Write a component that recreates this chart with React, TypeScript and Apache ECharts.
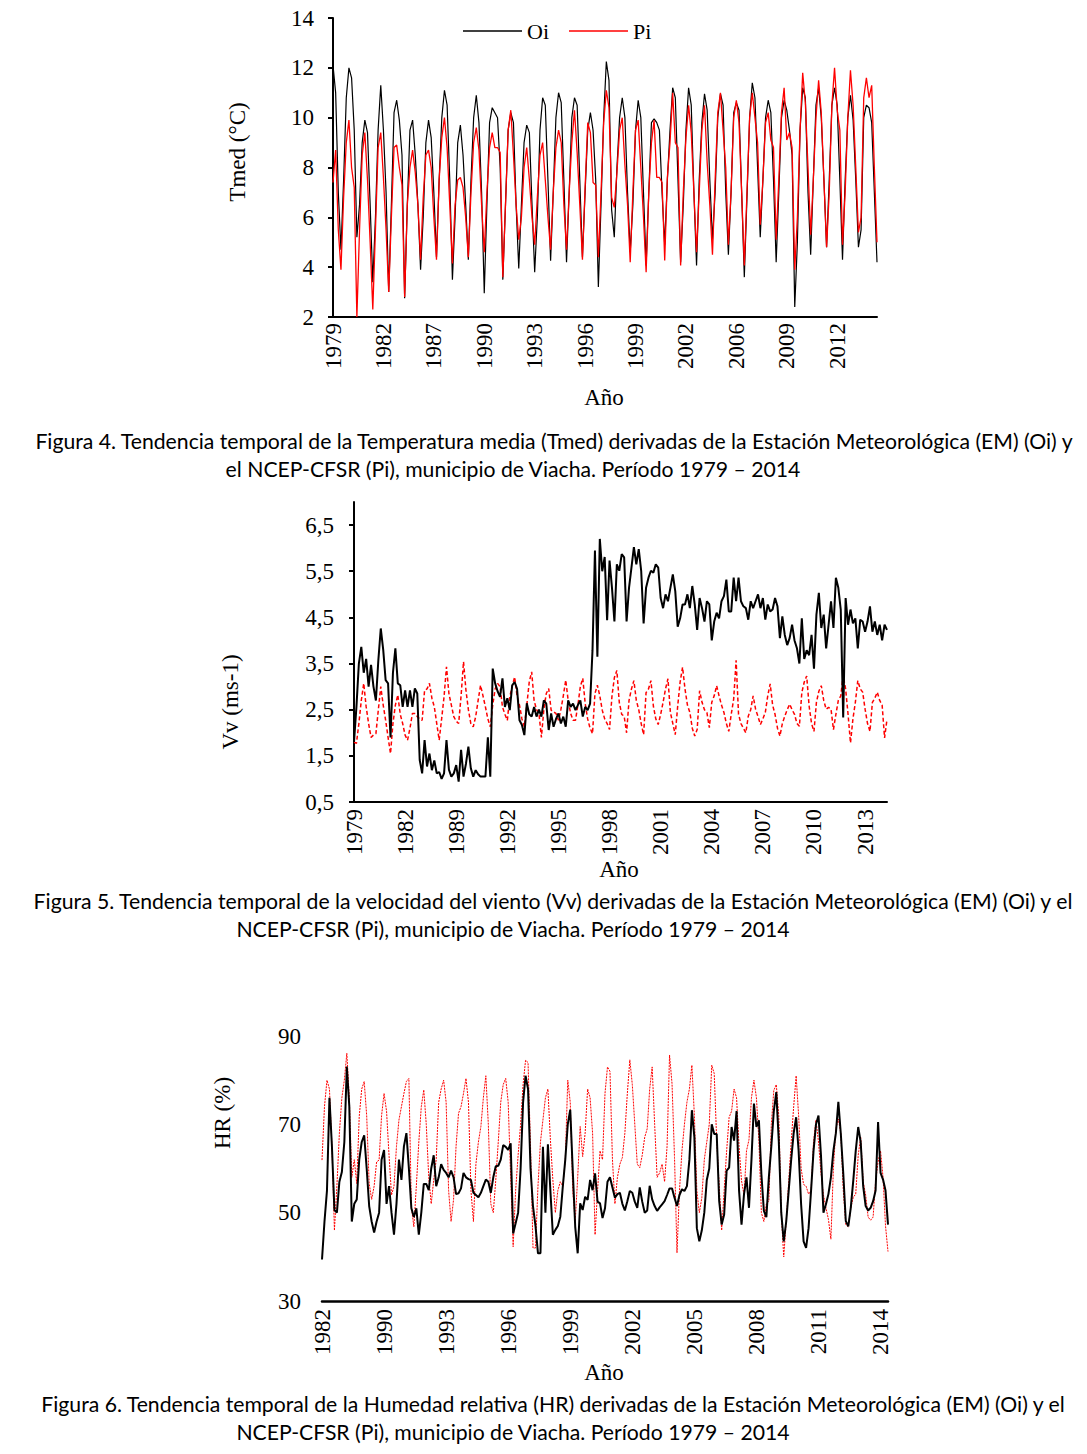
import React, { useEffect, useRef } from 'react';
import * as echarts from 'echarts';

// ---------- Figura 4: Tmed ----------
const tmedLabels = ['1979', '1982', '1987', '1990', '1993', '1996', '1999', '2002', '2006', '2009', '2012'];
const tmedTicks = [2, 4, 6, 8, 10, 12, 14];
const tmedOi = [
  12.1, 11.0, 7.0, 4.7, 7.5, 10.8,
  12.0, 11.6, 9.5, 5.2, 6.5, 9.0,
  9.9, 9.4, 6.5, 3.4, 6.0, 9.5,
  11.3, 9.5, 7.0, 3.0, 6.5, 10.2,
  10.7, 9.9, 8.5, 2.75, 6.5, 9.5,
  9.9, 8.5, 6.5, 3.9, 6.0, 9.0,
  9.9, 9.2, 7.0, 4.4, 7.5, 10.0,
  11.1, 10.5, 7.5, 3.5, 6.0, 9.0,
  9.7, 8.5, 6.5, 4.3, 7.5, 10.0,
  10.9, 9.8, 7.0, 2.95, 6.5, 9.8,
  10.4, 10.2, 10.0, 8.0, 3.5, 6.5, 9.5,
  10.2, 9.8, 6.5, 3.95, 6.5, 9.0,
  9.7, 9.4, 6.5, 3.8, 6.0, 9.5,
  10.8, 10.5, 7.5, 4.26, 7.0, 10.0,
  11.0, 10.6, 7.5, 4.2, 7.0, 10.0,
  10.8, 10.5, 7.5, 4.4, 7.0, 9.5,
  10.2, 9.5, 7.5, 3.2, 6.5, 10.0,
  12.25, 11.5, 6.3, 5.2, 8.0, 10.0,
  10.8, 10.0, 7.0, 4.6, 6.5, 9.5,
  10.7, 10.0, 7.0, 4.07, 7.0, 9.8,
  9.95, 9.8, 9.5, 7.0, 4.9, 7.5, 9.5,
  11.2, 10.8, 7.5, 4.2, 6.5, 9.5,
  11.2, 10.5, 7.0, 4.07, 7.5, 9.8,
  10.96, 10.3, 7.5, 5.1, 7.0, 10.0,
  10.96, 10.5, 7.0, 4.5, 7.0, 10.2,
  10.6, 10.3, 7.0, 3.6, 6.8, 10.0,
  11.4, 10.8, 8.0, 5.2, 7.5, 10.0,
  10.7, 10.2, 7.5, 4.2, 7.0, 10.0,
  10.7, 10.3, 9.5, 8.5, 2.4, 5.0, 9.5,
  11.2, 10.8, 7.0, 4.5, 7.5, 10.5,
  11.2, 10.0, 7.5, 4.8, 7.5, 10.5,
  11.2, 10.5, 7.5, 4.3, 7.5, 10.0,
  10.9, 9.9, 7.5, 4.8, 5.5, 10.0,
  10.5, 10.4, 9.8, 7.0, 4.2,
];
const tmedPi = [
  7.4, 8.7, 5.5, 3.9, 6.8, 9.0,
  9.9, 8.0, 7.2, 2.0, 5.5, 8.5,
  9.4, 7.5, 5.0, 2.3, 5.5, 8.8,
  9.4, 7.6, 5.5, 3.0, 6.0, 8.8,
  8.9, 8.0, 7.3, 2.8, 6.5, 8.0,
  8.7, 7.8, 6.5, 4.3, 6.8, 8.5,
  8.7, 8.0, 6.0, 4.3, 7.5, 9.2,
  10.0, 8.8, 6.5, 4.15, 6.5, 7.5,
  7.6, 7.2, 6.0, 4.4, 7.0, 9.0,
  9.6, 8.7, 6.5, 4.6, 7.0, 8.8,
  9.4, 8.8, 8.8, 8.6, 3.6, 6.5, 9.5,
  10.3, 8.5, 6.5, 5.1, 6.0, 8.0,
  8.8, 7.5, 6.0, 4.9, 6.8, 8.5,
  9.0, 7.5, 6.0, 4.7, 7.0, 8.8,
  9.5, 9.0, 6.5, 4.7, 7.0, 9.0,
  10.3, 8.6, 6.5, 4.3, 7.2, 9.8,
  9.4, 7.4, 7.3, 4.4, 7.0, 9.8,
  11.1, 10.4, 6.8, 6.4, 7.8, 9.5,
  10.0, 8.1, 6.5, 4.2, 7.0, 9.5,
  9.9, 8.0, 6.0, 3.8, 7.0, 9.0,
  9.9, 7.6, 7.6, 7.4, 4.27, 7.6, 9.0,
  11.0, 9.0, 8.8, 4.07, 7.0, 9.2,
  10.5, 9.4, 7.0, 4.6, 7.0, 9.5,
  10.5, 8.2, 6.5, 4.5, 7.5, 10.2,
  11.0, 9.5, 8.0, 4.9, 7.0, 10.0,
  10.7, 9.8, 7.0, 4.07, 7.0, 10.0,
  11.0, 10.0, 9.0, 5.7, 7.5, 9.8,
  10.2, 9.1, 8.8, 5.1, 7.5, 10.2,
  11.2, 9.1, 9.4, 8.8, 3.9, 6.0, 9.5,
  11.8, 10.6, 8.0, 5.3, 7.5, 10.0,
  11.5, 10.2, 7.5, 4.8, 7.0, 10.5,
  12.0, 10.3, 9.5, 4.9, 7.0, 10.0,
  11.9, 10.5, 8.0, 5.4, 6.0, 10.8,
  11.6, 10.8, 11.3, 8.0, 5.0,
];

// ---------- Figura 5: Vv ----------
const vvLabels = ['1979', '1982', '1989', '1992', '1995', '1998', '2001', '2004', '2007', '2010', '2013'];
const vvTicks = [0.5, 1.5, 2.5, 3.5, 4.5, 5.5, 6.5];
const vvOi = [
  1.8, 2.56, 3.5, 3.86, 3.3, 3.6, 3.0, 3.47, 3.0, 2.7,
  3.57, 4.26, 3.8, 3.14, 3.07, 1.9, 3.3, 3.83, 3.07, 3.03,
  2.56, 2.92, 2.56, 2.92, 2.56, 2.96, 2.85, 1.41, 1.12, 1.84,
  1.27, 1.55, 1.19, 1.4, 1.12, 1.15, 1.0, 1.12, 1.84, 1.2,
  1.05, 1.12, 1.3, 0.94, 1.63, 1.05, 1.33, 1.7, 1.23, 1.05,
  1.19, 1.1, 1.05, 1.05, 1.05, 1.9, 1.05, 3.39, 3.07, 2.9,
  2.78, 3.18, 2.56, 2.75, 2.49, 3.03, 3.1, 2.95, 2.27, 2.17,
  1.95, 2.64, 2.4, 2.35, 2.56, 2.35, 2.5, 2.35, 2.7, 2.63,
  2.06, 2.42, 2.13, 2.3, 2.42, 2.2, 2.35, 2.13, 2.7, 2.56,
  2.63, 2.49, 2.6, 2.7, 2.35, 2.56, 2.49, 2.63, 3.79, 5.95,
  3.65, 6.2, 5.5, 5.81, 4.44, 5.73, 5.14, 4.41, 5.65, 5.51,
  5.87, 5.8, 4.41, 5.14, 5.58, 6.02, 5.65, 5.98, 5.51, 4.37,
  5.14, 5.36, 5.51, 5.47, 5.65, 5.58, 4.92, 4.7, 5.0, 4.85,
  5.14, 5.43, 5.07, 4.3, 4.48, 4.78, 4.78, 5.0, 4.7, 5.18,
  4.78, 4.23, 4.92, 4.7, 4.41, 4.85, 4.78, 4.0, 4.41, 4.6,
  4.48, 4.85, 4.96, 5.32, 4.63, 4.63, 5.36, 4.85, 5.36, 4.85,
  4.74, 4.7, 4.45, 4.85, 4.7, 4.85, 5.0, 4.7, 4.92, 4.45,
  4.78, 4.63, 4.67, 4.92, 4.74, 4.05, 4.52, 4.12, 3.9, 4.05,
  4.34, 4.0, 3.83, 3.5, 4.48, 3.6, 3.79, 3.68, 4.12, 3.39,
  4.56, 5.03, 4.27, 4.56, 3.83, 4.34, 4.85, 4.27, 5.36, 5.14,
  4.67, 2.33, 4.92, 4.34, 4.67, 4.37, 4.48, 3.83, 4.45, 4.41,
  4.19, 4.41, 4.74, 4.19, 4.41, 4.12, 4.34, 4.0, 4.34, 4.23,
];
const vvPi = [
  1.8, 1.77, 2.2, 2.7, 3.07, 2.56, 2.2, 1.9, 1.95, 1.98,
  2.5, 3.0, 2.6, 2.27, 1.9, 1.55, 2.2, 2.6, 2.82, 2.4,
  2.2, 1.95, 1.84, 2.1, 2.42, 2.42, 2.35, 2.3, 2.27, 2.92,
  2.95, 3.07, 2.75, 2.56, 2.2, 1.84, 2.3, 2.78, 3.43, 2.85,
  2.6, 2.35, 2.25, 2.2, 2.8, 3.54, 2.92, 2.5, 2.2, 2.13,
  2.35, 2.7, 3.03, 2.8, 2.56, 2.3, 2.13, 2.6, 2.95, 3.07,
  3.0, 2.56, 2.4, 2.27, 2.78, 3.0, 3.21, 2.8, 2.6, 2.3,
  2.13, 2.6, 3.1, 3.32, 2.7, 2.5, 2.42, 1.9, 2.5, 2.85,
  2.96, 2.49, 2.45, 2.42, 2.27, 2.5, 2.8, 3.14, 2.7, 2.42,
  2.27, 2.27, 2.6, 3.0, 3.18, 2.63, 2.3, 2.1, 1.98, 2.85,
  3.03, 2.8, 2.49, 2.3, 2.2, 2.07, 2.8, 3.2, 3.35, 2.66,
  2.4, 2.36, 2.0, 2.7, 2.95, 3.13, 2.7, 2.5, 2.2, 1.96,
  2.87, 2.95, 3.13, 2.58, 2.3, 2.18, 2.4, 2.66, 2.95, 3.17,
  2.44, 2.2, 1.96, 2.58, 3.1, 3.42, 2.95, 2.6, 2.44, 2.1,
  1.93, 2.07, 2.91, 2.66, 2.5, 2.44, 2.11, 2.66, 2.8, 3.02,
  2.8, 2.6, 2.44, 2.2, 2.03, 2.4, 2.73, 3.57, 2.4, 2.2,
  2.1, 2.0, 2.36, 2.5, 2.8, 2.51, 2.35, 2.18, 2.3, 2.44,
  2.8, 3.06, 2.6, 2.4, 2.1, 1.93, 2.2, 2.36, 2.5, 2.62,
  2.5, 2.4, 2.2, 2.14, 2.87, 3.1, 3.23, 2.58, 2.2, 2.03,
  2.66, 2.9, 3.02, 2.7, 2.51, 2.55, 2.51, 2.07, 2.4, 2.7,
  2.8, 3.24, 2.95, 2.4, 1.78, 2.3, 2.66, 3.13, 2.95, 2.88,
  2.51, 2.2, 2.03, 2.66, 2.75, 2.88, 2.7, 2.6, 1.89, 2.29,
];

// ---------- Figura 6: HR ----------
const hrLabels = ['1982', '1990', '1993', '1996', '1999', '2002', '2005', '2008', '2011', '2014'];
const hrTicks = [30, 50, 70, 90];
const hrOi = [
  39.4, 48, 55, 76, 65, 50.6, 50, 57, 59.2, 66,
  83.1, 74, 48, 52, 53, 62, 66, 67.5, 60, 51.5,
  48, 45.5, 48, 50, 62, 64.2, 52, 56, 50, 45,
  52, 62, 57.4, 65, 68, 60, 51, 49, 51, 45,
  50, 56.5, 56.5, 55.1, 60, 63, 56, 58, 61, 59.7,
  59, 58, 59.5, 58, 54.2, 54.4, 55.5, 59, 58, 57.6,
  57.4, 54.5, 54, 53.5, 54.5, 56, 57.5, 57, 54.5, 58,
  60.5, 60.6, 62, 65.3, 64.9, 64.2, 65.7, 45.3, 47.6, 50,
  60, 75, 81, 78, 60, 51.4, 47, 40.8, 40.8, 64.9,
  50, 65.5, 55, 45, 46.1, 47, 49.1, 55.9, 62, 70,
  73.3, 59.7, 46.8, 40.8, 52.1, 50.6, 53.6, 52.9, 57.4, 55.1,
  58.9, 52.5, 52.1, 48.8, 51, 57, 58, 55.7, 53.4, 54.2,
  54.5, 52, 50.5, 52.6, 54.9, 54.5, 52.5, 51.1, 55.7, 52.5,
  50, 50.5, 56.1, 53, 51.5, 50.4, 51.2, 51.9, 52.6, 54,
  55.5, 55.5, 53.4, 51.5, 54, 55.3, 54.9, 56, 62, 73.2,
  67.1, 46.5, 43.5, 46, 50, 57.4, 60, 70, 67.8, 67.8,
  52.6, 47.3, 49.6, 59.5, 60.2, 69.4, 66.3, 73, 55, 47.3,
  54.2, 58, 51.1, 62, 74.7, 69.4, 70.9, 58.7, 50.4, 49,
  58, 65, 73, 77.3, 66.3, 50, 43.5, 48, 55, 62,
  68, 71.6, 64, 51.9, 43.5, 42, 46.5, 54.9, 64, 70,
  72, 63, 50, 51.9, 54.2, 58, 64, 68, 75.1, 67.8,
  58.7, 48.1, 46.9, 51.1, 57.2, 64, 69.4, 66, 56, 51.5,
  50.5, 51.1, 52.6, 55, 70.5, 59, 57.5, 55, 47.3,
];
const hrPi = [
  61.9, 74, 80, 78, 65, 46, 56, 68, 76, 80,
  86.1, 76, 58, 62, 56.6, 71.8, 78, 79.7, 72, 56.6,
  53, 56, 61.5, 61.9, 72, 77, 73, 63, 54, 56,
  65, 71, 74, 77, 79.7, 80.4, 51.4, 46.8, 56, 66,
  74, 77.8, 70, 58, 52, 57.4, 62, 75, 78, 80,
  75, 55, 48, 53, 65, 72.5, 74, 77, 80.4, 75,
  55, 48, 61, 66, 69.5, 76, 81, 70, 52, 50,
  57.4, 66, 75, 79, 80.4, 75, 58, 42.3, 55, 63,
  70, 79, 84.5, 84, 65, 42, 42, 56, 66, 71,
  76, 78, 66.5, 57.4, 50, 55, 57, 56, 62, 80,
  75, 55, 48, 58, 69.5, 62.7, 68, 78, 76, 68,
  45, 54.9, 64, 62, 77, 83, 82, 62, 52, 58,
  61, 62.5, 68, 77, 84.6, 79, 70, 61, 60.2, 63,
  67.1, 69, 78, 83, 70, 58, 59, 61, 57, 65,
  85.7, 79.2, 62.5, 40.9, 55, 64, 70, 75, 78, 83.4,
  72, 55, 50, 53.4, 62, 66, 70, 83.4, 81.5, 66.3,
  56, 46, 55, 64, 71.6, 73, 78, 76, 65, 57.2,
  54, 64, 66.5, 76, 80, 76, 66.3, 50, 48, 52,
  52.6, 70, 77.7, 79, 72, 50, 40, 48, 57, 66,
  74, 81, 72, 60, 56.4, 56, 54.2, 55, 66, 71,
  66, 59, 54, 51.1, 48.5, 44, 60, 69, 71.2, 68,
  55, 47.3, 46.8, 51, 53.5, 54.2, 63, 67.1, 57, 54,
  49, 48.3, 49, 57, 61.5, 64, 58, 47, 41.2,
];

const SERIF = '"Liberation Serif", "Times New Roman", serif';
const SANS = 'Lato, "Noto Sans", sans-serif';
const W = 1087;
const H = 1454;

function catAxis(gridIndex: number, n: number, labels: string[], step: number, margin: number, lineWidth: number) {
  return {
    type: 'category',
    gridIndex,
    data: Array.from({ length: n }, (_, i) => String(i)),
    boundaryGap: false,
    axisLine: { show: true, onZero: false, lineStyle: { color: '#000', width: lineWidth } },
    axisTick: { show: false },
    splitLine: { show: false },
    axisLabel: {
      interval: step - 1,
      rotate: 90,
      margin,
      color: '#000',
      fontFamily: SERIF,
      fontSize: 23,
      formatter: (_v: string, idx: number) => (idx % step === 0 ? labels[idx / step] ?? '' : ''),
    },
  };
}

function buildOption() {
  const text = (t: string, x: number, y: number, font: string, rot = 0, align = 'center') => ({
    type: 'text',
    x,
    y,
    rotation: rot,
    silent: true,
    style: { text: t, font, fill: '#000', align, verticalAlign: 'middle' },
  });
  const axisFont = `23px ${SERIF}`;
  const capFont = `21.2px ${SANS}`;
  return {
    animation: false,
    backgroundColor: '#fff',
    legend: {
      data: ['Oi', 'Pi'],
      left: 458,
      top: 15,
      icon: 'rect',
      itemWidth: 59,
      itemHeight: 1.3,
      itemGap: 20,
      textStyle: { fontFamily: SERIF, fontSize: 22, color: '#000', lineHeight: 22 },
    },
    grid: [
      { left: 333, top: 18, width: 544, height: 299, containLabel: false },
      { left: 354, top: 502, width: 533, height: 300, containLabel: false },
      { left: 322, top: 1036, width: 566, height: 265, containLabel: false },
    ],
    xAxis: [
      catAxis(0, tmedOi.length, tmedLabels, 19, 6, 2),
      catAxis(1, vvOi.length, vvLabels, 21, 7, 2),
      catAxis(2, hrOi.length, hrLabels, 25, 8, 2.5),
    ],
    yAxis: [
      {
        type: 'value', gridIndex: 0, min: tmedTicks[0], max: tmedTicks[tmedTicks.length - 1], interval: 2,
        axisLine: { show: true, lineStyle: { color: '#000', width: 2 } },
        axisTick: { show: true, length: 5, lineStyle: { color: '#000', width: 2 } },
        splitLine: { show: false },
        axisLabel: { margin: 19, color: '#000', fontFamily: SERIF, fontSize: 23 },
      },
      {
        type: 'value', gridIndex: 1, min: 0.5, max: 7, interval: 1,
        axisLine: { show: true, lineStyle: { color: '#000', width: 2 } },
        axisTick: { show: true, length: 5, customValues: vvTicks, lineStyle: { color: '#000', width: 2 } },
        splitLine: { show: false },
        axisLabel: {
          margin: 20, color: '#000', fontFamily: SERIF, fontSize: 23,
          customValues: vvTicks,
          formatter: (v: number) => String(v).replace('.', ','),
        },
      },
      {
        type: 'value', gridIndex: 2, min: hrTicks[0], max: hrTicks[hrTicks.length - 1], interval: 20,
        axisLine: { show: false },
        axisTick: { show: false },
        splitLine: { show: false },
        axisLabel: { margin: 21, color: '#000', fontFamily: SERIF, fontSize: 23 },
      },
    ],
    series: [
      {
        name: 'Oi', type: 'line', xAxisIndex: 0, yAxisIndex: 0, data: tmedOi,
        symbol: 'none', showSymbol: false, lineStyle: { color: '#000', width: 1.2 }, itemStyle: { color: '#000' },
      },
      {
        name: 'Pi', type: 'line', xAxisIndex: 0, yAxisIndex: 0, data: tmedPi,
        symbol: 'none', showSymbol: false, lineStyle: { color: '#ff0000', width: 1.3 }, itemStyle: { color: '#ff0000' },
      },
      {
        name: 'Pi', type: 'line', xAxisIndex: 1, yAxisIndex: 1, data: vvPi,
        symbol: 'none', showSymbol: false, lineStyle: { color: '#ff0000', width: 1.5, type: [4, 2.5] },
      },
      {
        name: 'Oi', type: 'line', xAxisIndex: 1, yAxisIndex: 1, data: vvOi,
        symbol: 'none', showSymbol: false, lineStyle: { color: '#000', width: 2 },
      },
      {
        name: 'Pi', type: 'line', xAxisIndex: 2, yAxisIndex: 2, data: hrPi,
        symbol: 'none', showSymbol: false, lineStyle: { color: '#ff0000', width: 1, type: [2, 1] },
      },
      {
        name: 'Oi', type: 'line', xAxisIndex: 2, yAxisIndex: 2, data: hrOi,
        symbol: 'none', showSymbol: false, lineStyle: { color: '#000', width: 2 },
      },
    ],
    graphic: [
      text('Tmed (°C)', 237, 152, axisFont, Math.PI / 2),
      text('Año', 604, 397, axisFont),
      text('Vv (ms-1)', 230, 702, axisFont, Math.PI / 2),
      text('Año', 619, 869, axisFont),
      text('HR (%)', 222, 1113, axisFont, Math.PI / 2),
      text('Año', 604, 1372, axisFont),
      text('Figura 4. Tendencia temporal de la Temperatura media (Tmed) derivadas de la Estación Meteorológica (EM) (Oi) y', 554, 441, capFont),
      text('el NCEP-CFSR (Pi), municipio de Viacha. Período 1979 – 2014', 513, 469, capFont),
      text('Figura 5. Tendencia temporal de la velocidad del viento (Vv) derivadas de la Estación Meteorológica (EM) (Oi) y el', 553, 901, capFont),
      text('NCEP-CFSR (Pi), municipio de Viacha. Período 1979 – 2014', 513, 929, capFont),
      text('Figura 6. Tendencia temporal de la Humedad relativa (HR) derivadas de la Estación Meteorológica (EM) (Oi) y el', 553, 1404, capFont),
      text('NCEP-CFSR (Pi), municipio de Viacha. Período 1979 – 2014', 513, 1432, capFont),
    ],
  };
}

export default function App() {
  const ref = useRef<HTMLDivElement>(null);
  useEffect(() => {
    if (!ref.current) return;
    const chart = echarts.init(ref.current, null, { renderer: 'svg', width: W, height: H });
    chart.setOption(buildOption() as any);
    return () => chart.dispose();
  }, []);
  return (
    <div
      ref={ref}
      style={{ position: 'absolute', left: 0, top: 0, width: W, height: H, background: '#fff' }}
    />
  );
}
